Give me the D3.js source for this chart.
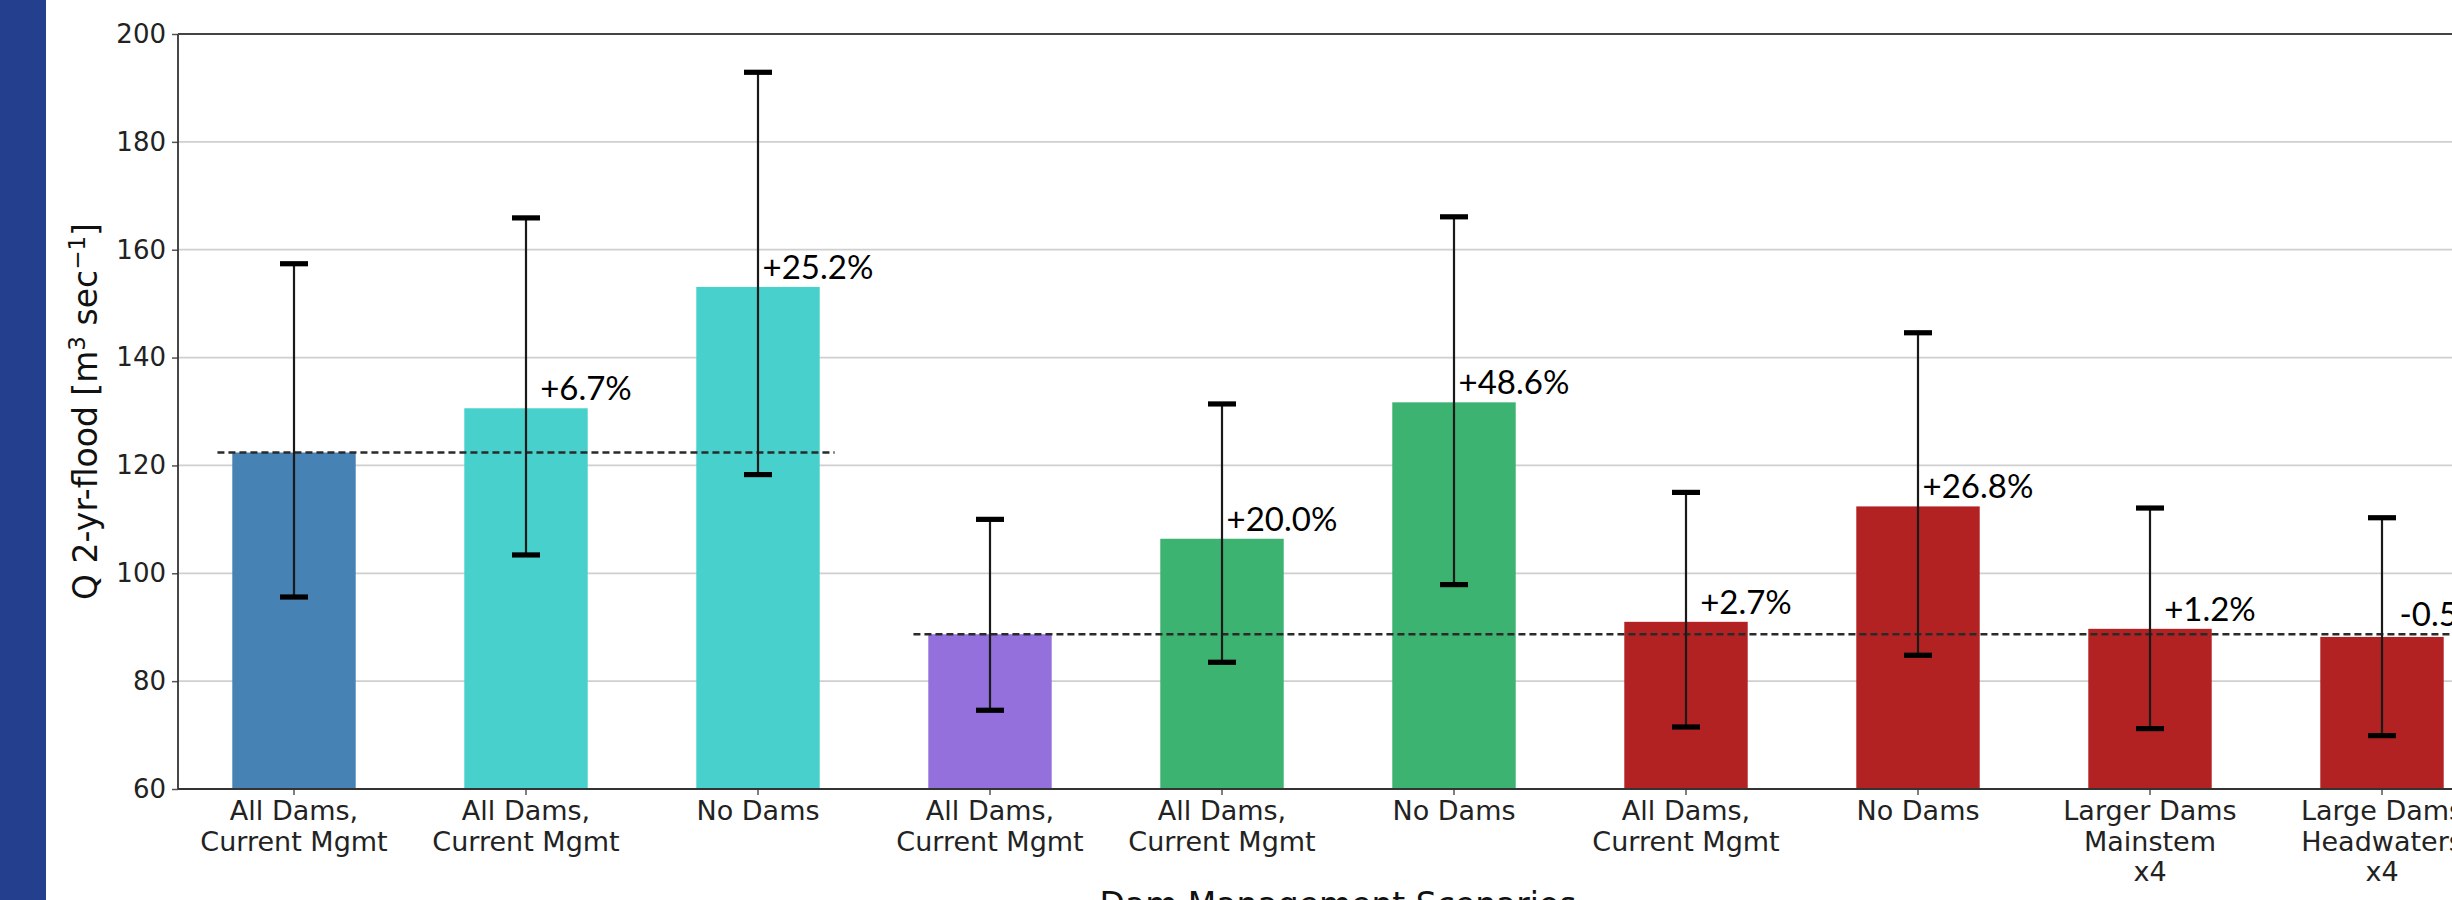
<!DOCTYPE html>
<html>
<head>
<meta charset="utf-8">
<script src="https://cdn.jsdelivr.net/npm/d3@7"></script>
<style>
  html, body { margin: 0; padding: 0; background: #ffffff; overflow: hidden; }
  svg { display: block; }
</style>
</head>
<body>
<svg id="chart" width="2452" height="900"></svg>
<script>
// Scenario labels (multi-line, split on \n)
const categories = [
  "All Dams,\nCurrent Mgmt",
  "All Dams,\nCurrent Mgmt",
  "No Dams",
  "All Dams,\nCurrent Mgmt",
  "All Dams,\nCurrent Mgmt",
  "No Dams",
  "All Dams,\nCurrent Mgmt",
  "No Dams",
  "Larger Dams\nMainstem\nx4",
  "Large Dams\nHeadwaters\nx4"
];

// 2-yr flood discharge (m3/s), with spread of the estimate
const q2Flood   = [122.4, 130.6, 153.1, 88.7, 106.4, 131.7, 91.0, 112.4, 89.7, 88.2];
const errLower  = [95.6, 103.4, 118.3, 74.6, 83.5, 97.9, 71.5, 84.8, 71.2, 69.9];
const errUpper  = [157.4, 165.9, 192.9, 110.0, 131.4, 166.1, 115.0, 144.6, 112.1, 110.3];

// Percent change relative to the current-management reference in each group
const changeLabels = ["", "+6.7%", "+25.2%", "", "+20.0%", "+48.6%", "+2.7%", "+26.8%", "+1.2%", "-0.5%"];

// Reference level for each group of scenarios (index spans in bar units)
const refValues = [122.4, 88.7];
const refFrom   = [-0.33, 2.67];
const refTo     = [2.33, 9.6];
// Which reference each bar belongs to
const refGroup  = [0, 0, 0, 1, 1, 1, 1, 1, 1, 1];

const barColors = ["#4682b4", "#48d1cc", "#48d1cc", "#9370db", "#3cb371", "#3cb371",
                   "#b22222", "#b22222", "#b22222", "#b22222"];

const yTicks = [60, 80, 100, 120, 140, 160, 180, 200];

// ---- layout ----
const svg = d3.select("#chart");
const W = 2452, H = 900;
const plot = { left: 178, right: 2498, top: 34, bottom: 789 };

// left decorative strip
svg.append("rect").attr("x", 0).attr("y", 0).attr("width", 46).attr("height", H).attr("fill", "#233f8e");

const ids = categories.map((_, i) => i);
const x = d3.scaleBand().domain(ids).range([plot.left, plot.right])
  .paddingInner(0.468).paddingOuter(0.234);
const xi = d3.scaleLinear().domain([-0.5, categories.length - 0.5]).range([plot.left, plot.right]);
const y = d3.scaleLinear().domain([60, 200]).range([plot.bottom, plot.top]);
const cx = i => x(i) + x.bandwidth() / 2;

// grid
svg.append("g").selectAll("line").data(yTicks.filter(t => t > 60 && t < 200)).join("line")
  .attr("x1", plot.left).attr("x2", W)
  .attr("y1", d => y(d)).attr("y2", d => y(d))
  .attr("stroke", "#cfcfcf").attr("stroke-width", 1.8);

// bars
svg.append("g").selectAll("rect").data(ids).join("rect")
  .attr("x", i => x(i)).attr("width", x.bandwidth())
  .attr("y", i => y(q2Flood[i])).attr("height", i => y(60) - y(q2Flood[i]))
  .attr("fill", i => barColors[i]);

// reference dashed lines
svg.append("g").selectAll("line").data(refValues.map((v, k) => k)).join("line")
  .attr("x1", k => xi(refFrom[k])).attr("x2", k => xi(refTo[k]))
  .attr("y1", k => y(refValues[k])).attr("y2", k => y(refValues[k]))
  .attr("stroke", "#2a2a2a").attr("stroke-width", 2.4).attr("stroke-dasharray", "7,4");

// error bars
const eb = svg.append("g");
eb.selectAll("line.stem").data(ids).join("line").attr("class", "stem")
  .attr("x1", cx).attr("x2", cx)
  .attr("y1", i => y(errLower[i])).attr("y2", i => y(errUpper[i]))
  .attr("stroke", "#1a1a1a").attr("stroke-width", 2.2);
["lo", "hi"].forEach(side => {
  eb.selectAll("rect.cap-" + side).data(ids).join("rect").attr("class", "cap-" + side)
    .attr("x", i => cx(i) - 14).attr("width", 28)
    .attr("y", i => y(side === "lo" ? errLower[i] : errUpper[i]) - 2.6).attr("height", 5.2)
    .attr("fill", "#000");
});

// change labels
svg.append("g").selectAll("text").data(ids.filter(i => changeLabels[i])).join("text")
  .attr("x", i => cx(i) + 60)
  .attr("y", i => y(Math.max(q2Flood[i], refValues[refGroup[i]])) - 8)
  .attr("text-anchor", "middle")
  .attr("font-family", "Lato, 'Open Sans', sans-serif")
  .attr("font-size", 33)
  .attr("fill", "#000")
  .text(i => changeLabels[i]);

// axes
const font = "'DejaVu Sans', sans-serif";
const yAxis = svg.append("g").attr("transform", `translate(${plot.left},0)`)
  .call(d3.axisLeft(y).tickValues(yTicks).tickSize(6).tickPadding(6));
yAxis.select(".domain").remove();
yAxis.selectAll(".tick line").attr("stroke", "#555").attr("stroke-width", 1.5);
yAxis.selectAll("text").attr("font-family", font).attr("font-size", 26).attr("fill", "#222");

const xAxis = svg.append("g").attr("transform", `translate(0,${plot.bottom})`)
  .call(d3.axisBottom(x).tickSize(6).tickFormat(() => ""));
xAxis.select(".domain").remove();
xAxis.selectAll(".tick line").attr("stroke", "#555").attr("stroke-width", 1.5);
xAxis.selectAll(".tick").each(function (i) {
  const lines = categories[i].split("\n");
  const t = d3.select(this).append("text")
    .attr("text-anchor", "middle").attr("font-family", font).attr("font-size", 27)
    .attr("fill", "#222");
  lines.forEach((ln, k) => t.append("tspan").attr("x", 0).attr("y", 31 + k * 30.5).text(ln));
});

// spines: left, top, bottom
svg.append("line").attr("x1", plot.left).attr("x2", plot.left).attr("y1", plot.top).attr("y2", plot.bottom)
  .attr("stroke", "#333").attr("stroke-width", 1.8);
svg.append("line").attr("x1", plot.left).attr("x2", W).attr("y1", plot.top).attr("y2", plot.top)
  .attr("stroke", "#444").attr("stroke-width", 1.8);
svg.append("line").attr("x1", plot.left).attr("x2", W).attr("y1", plot.bottom).attr("y2", plot.bottom)
  .attr("stroke", "#333").attr("stroke-width", 1.8);

// axis titles
const yTitle = svg.append("text")
  .attr("transform", `translate(97,${(plot.top + plot.bottom) / 2}) rotate(-90)`)
  .attr("text-anchor", "middle").attr("font-family", font).attr("font-size", 33).attr("fill", "#111");
yTitle.append("tspan").text("Q 2-yr-flood [m");
yTitle.append("tspan").attr("dy", -12).attr("font-size", 23).text("3");
yTitle.append("tspan").attr("dy", 12).text(" sec");
yTitle.append("tspan").attr("dy", -12).attr("font-size", 23).text("\u22121");
yTitle.append("tspan").attr("dy", 12).text("]");

svg.append("text")
  .attr("x", (plot.left + plot.right) / 2).attr("y", 916)
  .attr("text-anchor", "middle").attr("font-family", font).attr("font-size", 33).attr("fill", "#111")
  .text("Dam Management Scenarios");
</script>
</body>
</html>
